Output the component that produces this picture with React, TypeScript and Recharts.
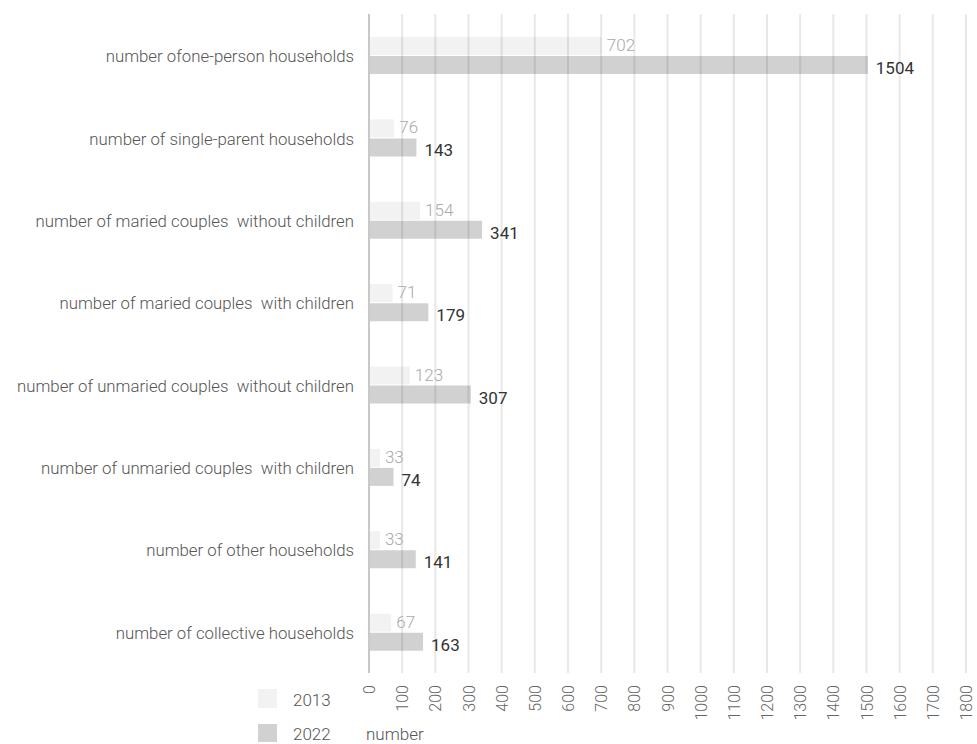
import React from 'react';
import { BarChart, Bar, XAxis, YAxis, CartesianGrid, LabelList } from 'recharts';

// household types (label text kept as in the source, double spaces included)
const categories = [
  'number ofone-person households',
  'number of single-parent households',
  'number of maried couples  without children',
  'number of maried couples  with children',
  'number of unmaried couples  without children',
  'number of unmaried couples  with children',
  'number of other households',
  'number of collective households',
];
const values2013 = [702, 76, 154, 71, 123, 33, 33, 67];
const values2022 = [1504, 143, 341, 179, 307, 74, 141, 163];
const xTicks = [0, 100, 200, 300, 400, 500, 600, 700, 800, 900, 1000, 1100, 1200, 1300, 1400, 1500, 1600, 1700, 1800];
const seriesNames = ['2013', '2022'];
const axisTitle = 'number';

const FONT = 'Roboto, "Noto Sans", sans-serif';

const data = categories.map((name, i) => ({
  name,
  y2013: values2013[i],
  y2022: values2022[i],
}));

const CategoryTick = (props: any) => {
  const { x, y, payload } = props;
  return (
    <text
      x={x}
      y={y + 1}
      textAnchor="end"
      dominantBaseline="central"
      fill="#555"
      fontSize={16.8}
      fontWeight={300}
      fontFamily={FONT}
      style={{ whiteSpace: 'pre' }}
    >
      {payload.value}
    </text>
  );
};

const ValueTick = (props: any) => {
  const { x, y, payload } = props;
  const tx = x + 6;
  const ty = y + 12;
  return (
    <text
      x={tx}
      y={ty}
      textAnchor="end"
      fill="#666"
      fontSize={16}
      fontWeight={300}
      fontFamily={FONT}
      transform={`rotate(-90, ${tx}, ${ty})`}
    >
      {payload.value}
    </text>
  );
};

const label2013 = (props: any) => {
  const { x, y, width, height, value } = props;
  return (
    <text
      x={x + width + 5}
      y={y + height / 2 - 1}
      dominantBaseline="central"
      fill="#aaa"
      fontSize={17}
      fontWeight={300}
      fontFamily={FONT}
    >
      {value}
    </text>
  );
};

const label2022 = (props: any) => {
  const { x, y, width, height, value } = props;
  return (
    <text
      x={x + width + 8}
      y={y + height / 2 + 3}
      dominantBaseline="central"
      fill="#333"
      fontSize={17}
      fontFamily={FONT}
    >
      {value}
    </text>
  );
};

const App: React.FC = () => {
  return (
    <div style={{ position: 'absolute', left: 0, top: 0, width: 977, height: 744, fontFamily: FONT }}>
      <BarChart
        width={977}
        height={744}
        data={data}
        layout="vertical"
        margin={{ top: 14, right: 11, left: 0, bottom: 0 }}
        barSize={18}
        barGap={1}
      >
        <CartesianGrid horizontal={false} stroke="#e8e8e8" strokeWidth={2} />
        <XAxis
          type="number"
          domain={[0, 1800]}
          ticks={xTicks}
          height={71}
          axisLine={false}
          tickLine={false}
          tickSize={0}
          tickMargin={0}
          tick={<ValueTick />}
          interval={0}
        />
        <YAxis
          type="category"
          dataKey="name"
          width={369}
          axisLine={{ stroke: '#c8c8c8', strokeWidth: 2 }}
          tickLine={false}
          tickSize={0}
          tickMargin={15}
          tick={<CategoryTick />}
          interval={0}
        />
        <Bar dataKey="y2013" name={seriesNames[0]} fill="#000" fillOpacity={0.05} isAnimationActive={false}>
          <LabelList dataKey="y2013" content={label2013} />
        </Bar>
        <Bar dataKey="y2022" name={seriesNames[1]} fill="#000" fillOpacity={0.18} isAnimationActive={false}>
          <LabelList dataKey="y2022" content={label2022} />
        </Bar>
      </BarChart>

      {/* legend and axis title */}
      <div style={{ position: 'absolute', left: 258, top: 689, width: 19, height: 19, background: '#f2f2f2' }} />
      <div style={{ position: 'absolute', left: 293, top: 689, fontSize: 17, fontWeight: 300, color: '#555', lineHeight: '22px' }}>
        {seriesNames[0]}
      </div>
      <div style={{ position: 'absolute', left: 258, top: 724, width: 19, height: 18, background: '#d1d1d1' }} />
      <div style={{ position: 'absolute', left: 293, top: 723, fontSize: 17, fontWeight: 300, color: '#555', lineHeight: '22px' }}>
        {seriesNames[1]}
      </div>
      <div style={{ position: 'absolute', left: 366, top: 723, fontSize: 17, fontWeight: 300, color: '#555', lineHeight: '22px' }}>
        {axisTitle}
      </div>
    </div>
  );
};

export default App;
